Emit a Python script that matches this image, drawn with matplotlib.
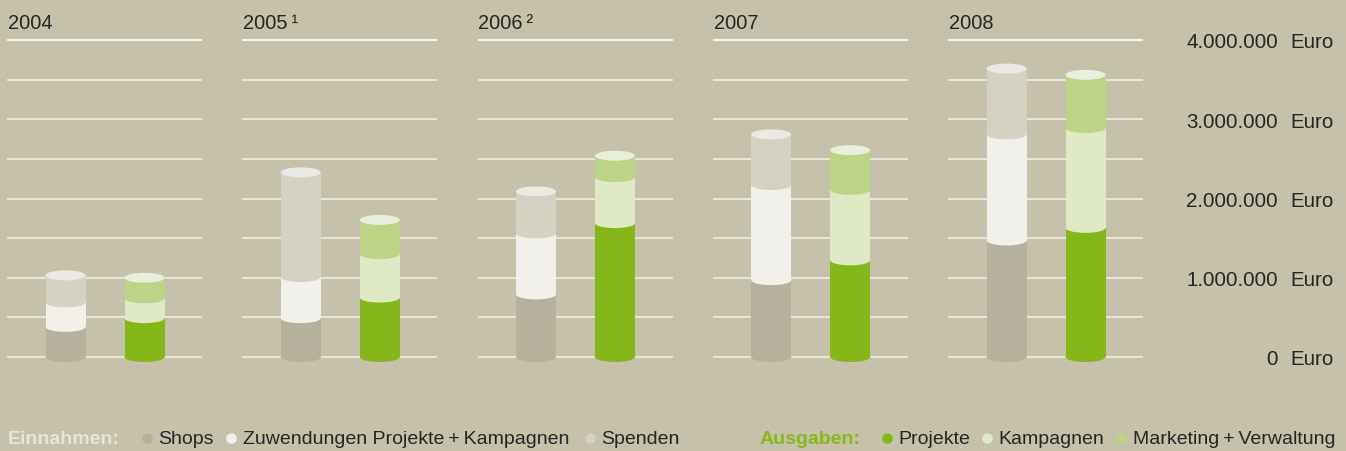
import matplotlib
matplotlib.use('Agg')
import matplotlib.pyplot as plt
from matplotlib.patches import Rectangle, Ellipse
import numpy as np

# ---------------- data (Euro) ----------------
years = ['2004', '2005', '2006', '2007', '2008']
year_labels = ['2004', '2005\u2009\u00b9', '2006\u2009\u00b2', '2007', '2008']

# Einnahmen
shops       = [380000, 490000, 790000, 970000, 1470000]
zuwendungen = [310000, 520000, 770000, 1200000, 1340000]
spenden     = [340000, 1320000, 530000, 640000, 830000]
# Ausgaben
projekte    = [490000, 750000, 1690000, 1220000, 1630000]
kampagnen   = [250000, 550000, 580000, 890000, 1260000]
marketing   = [260000, 430000, 270000, 500000, 670000]

tick_values = [0, 1000000, 2000000, 3000000, 4000000]
tick_labels = ['0', '1.000.000', '2.000.000', '3.000.000', '4.000.000']

# ---------------- style ----------------
BG = '#c5c1aa'
C_SHOPS = '#b5b19c'
C_ZUW = '#f1f0eb'
C_SPENDEN = '#d5d2c4'
C_SPENDEN_TOP = '#ebe9e3'
C_PROJ = '#86b71a'
C_KAMP = '#dfe9c6'
C_MARK = '#bcd485'
C_MARK_TOP = '#e9efdb'
TXT = '#262626'
FONT = ['Liberation Sans', 'DejaVu Sans']
plt.rcParams['font.family'] = FONT

W, H = 1346, 452
fig = plt.figure(figsize=(W / 100, H / 100), dpi=100)
fig.patch.set_facecolor(BG)
ax = fig.add_axes([0, 0, 1, 1])
ax.set_facecolor(BG)
ax.axis('off')

ZERO_PX = 358.0        # pixel row of value 0
PX_PER_EURO = 79.25 / 1e6
ax.set_xlim(0, W)
ax.set_ylim(-(H - ZERO_PX) / PX_PER_EURO, ZERO_PX / PX_PER_EURO)

PANEL_X0 = 7.0
PANEL_STEP = 235.25
PANEL_W = 195.0
BAR_W = 40.0
OFF_EIN = 58.5
OFF_AUS = 137.5
ELL_H = 10.0 / PX_PER_EURO


def fy(px):
    return (H - px) / H


def fx(px):
    return px / W


# gridlines and year titles
grid_vals = np.arange(0, 4000001, 500000)
for i in range(len(years)):
    x0 = PANEL_X0 + i * PANEL_STEP
    for v in grid_vals:
        col = '#f7f6f0' if v == 4000000 else '#e8e5da'
        ax.hlines(v, x0, x0 + PANEL_W, color=col, lw=1.4, zorder=1)
    fig.text(fx(x0 + 1), fy(29.3), year_labels[i], fontsize=14.4,
             color=TXT, ha='left', va='baseline')


def draw_stack(xc, vals, cols, topcol):
    base = 0.0
    z = 2
    for v, c in zip(vals, cols):
        ax.add_patch(Rectangle((xc - BAR_W / 2, base), BAR_W, v, fc=c,
                               ec='none', zorder=z))
        ax.add_patch(Ellipse((xc, base), BAR_W, ELL_H, fc=c, ec='none',
                             zorder=z))
        base += v
        z += 1
    ax.add_patch(Ellipse((xc, base), BAR_W, ELL_H, fc=topcol, ec='none',
                         zorder=z))


for i in range(len(years)):
    x0 = PANEL_X0 + i * PANEL_STEP
    draw_stack(x0 + OFF_EIN, [shops[i], zuwendungen[i], spenden[i]],
               [C_SHOPS, C_ZUW, C_SPENDEN], C_SPENDEN_TOP)
    draw_stack(x0 + OFF_AUS, [projekte[i], kampagnen[i], marketing[i]],
               [C_PROJ, C_KAMP, C_MARK], C_MARK_TOP)

# y labels
base_off = 7.3 / PX_PER_EURO
for v, lab in zip(tick_values, tick_labels):
    ax.text(1278, v - base_off, lab, fontsize=14.8, color=TXT,
            ha='right', va='baseline')
    ax.text(1290, v - base_off, 'Euro', fontsize=14.8, color=TXT,
            ha='left', va='baseline')

# legend
LEG_BASE = 444.5
LEG_FS = 14.0
fig.text(fx(8), fy(LEG_BASE), 'Einnahmen:', fontsize=LEG_FS,
         fontweight='bold', color='#e7e5da', ha='left', va='baseline')
fig.text(fx(760), fy(LEG_BASE), 'Ausgaben:', fontsize=LEG_FS,
         fontweight='bold', color='#88b81c', ha='left', va='baseline')

legend_items = [
    (147, 158, C_SHOPS, 'Shops'),
    (231, 243, C_ZUW, 'Zuwendungen Projekte\u2009+\u2009Kampagnen'),
    (590, 601, C_SPENDEN, 'Spenden'),
    (887, 898, C_PROJ, 'Projekte'),
    (987, 998, C_KAMP, 'Kampagnen'),
    (1121, 1133, C_MARK, 'Marketing\u2009+\u2009Verwaltung'),
]
for cx, tx, col, lab in legend_items:
    ax.plot([fx(cx)], [fy(438.5)], marker='o', ms=7.6, mew=0, color=col,
            transform=fig.transFigure, clip_on=False, zorder=5)
    fig.text(fx(tx), fy(LEG_BASE), lab, fontsize=LEG_FS, color=TXT,
             ha='left', va='baseline')

fig.savefig('out.png', dpi=100, facecolor=BG)
